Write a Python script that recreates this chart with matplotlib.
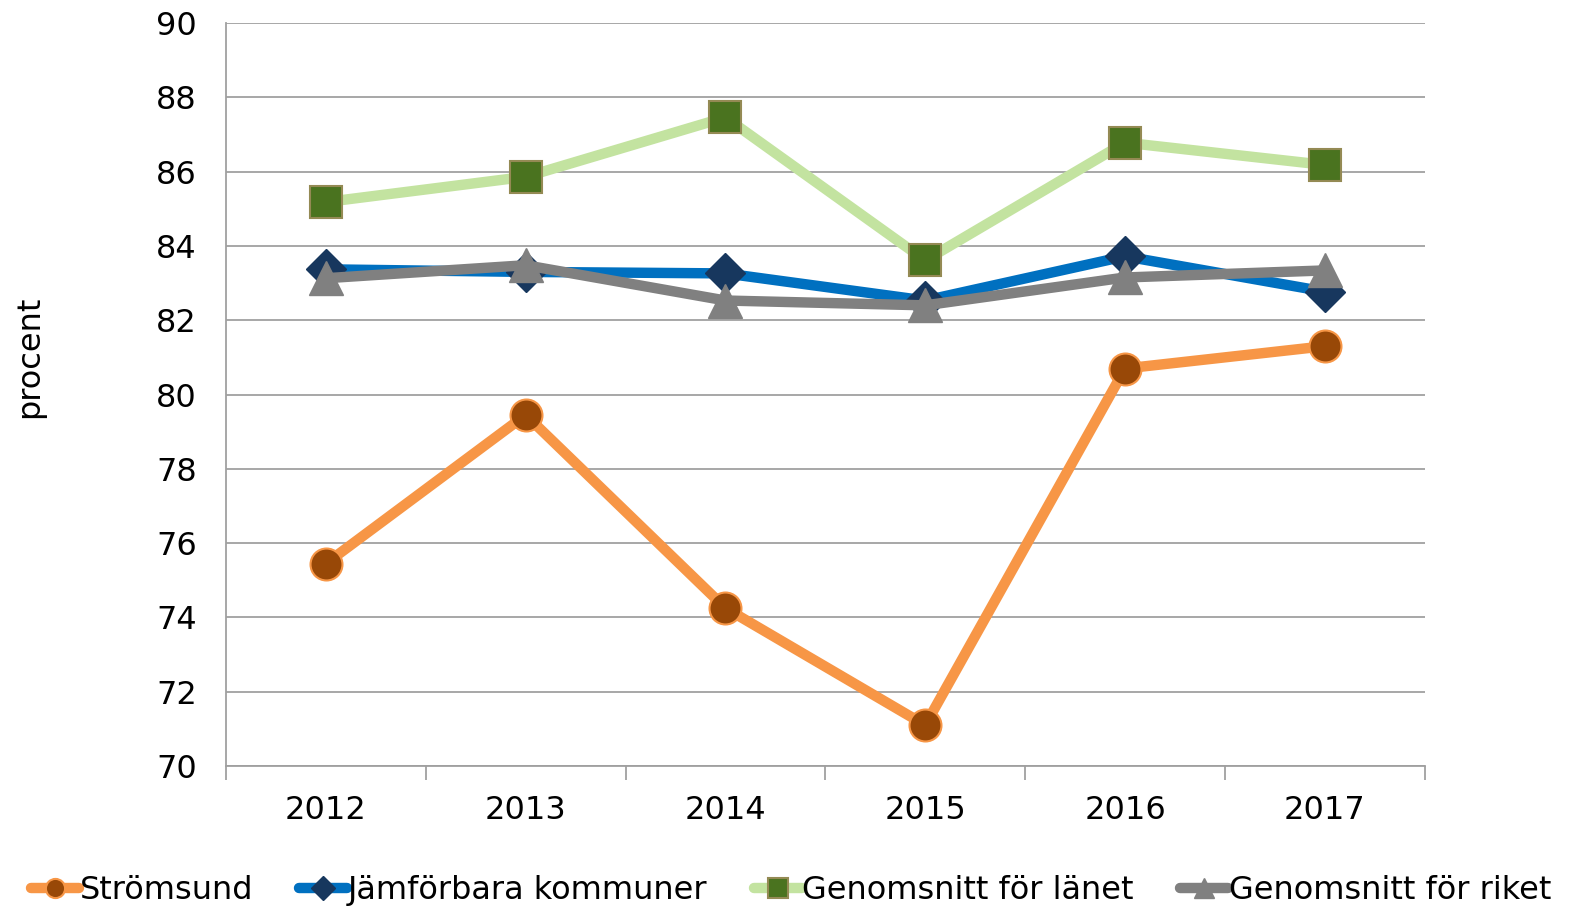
import matplotlib
matplotlib.use("Agg")
import matplotlib.pyplot as plt
import numpy as np

years = ["2012", "2013", "2014", "2015", "2016", "2017"]
stromsund = [75.45, 79.45, 74.25, 71.1, 80.7, 81.3]
jamforbara = [83.37, 83.3, 83.26, 82.53, 83.72, 82.77]
lanet = [85.18, 85.86, 87.46, 83.61, 86.78, 86.18]
riket = [83.13, 83.48, 82.53, 82.4, 83.15, 83.34]

plt.rcParams['font.family'] = ['DejaVu Sans']

fig = plt.figure(figsize=(15.76, 9.09), dpi=100)
ax = fig.add_axes([0.1434, 0.1573, 0.904 - 0.1434, 0.9747 - 0.1573])

x = np.arange(len(years))
lw = 7.5
ax.plot(x, stromsund, color="#F79646", lw=lw, marker="o", markersize=23,
        markerfacecolor="#984807", markeredgecolor="#F79646", markeredgewidth=1.5,
        label="Strömsund", solid_capstyle="round", zorder=3)
ax.plot(x, jamforbara, color="#0070C0", lw=lw, marker="D", markersize=20,
        markerfacecolor="#17375E", markeredgecolor="#17375E",
        label="Jämförbara kommuner", solid_capstyle="round", zorder=4)
ax.plot(x, lanet, color="#C3E3A0", lw=lw, marker="s", markersize=23,
        markerfacecolor="#4A731F", markeredgecolor="#948A54", markeredgewidth=1.5,
        label="Genomsnitt för länet", solid_capstyle="round", zorder=5)
ax.plot(x, riket, color="#808080", lw=lw, marker="^", markersize=24,
        markerfacecolor="#808080", markeredgecolor="#808080",
        label="Genomsnitt för riket", solid_capstyle="round", zorder=6)

ax.set_xlim(-0.5, 5.5)
ax.set_ylim(70, 90)
ax.set_yticks(np.arange(70, 91, 2))
ax.grid(axis="y", color="#A0A0A0", lw=1.3)
ax.set_axisbelow(True)
for s in ["top", "right"]:
    ax.spines[s].set_visible(False)
ax.spines["left"].set_color("#A0A0A0")
ax.spines["bottom"].set_color("#A0A0A0")
ax.spines["left"].set_linewidth(1.3)
ax.spines["bottom"].set_linewidth(1.3)

ax.set_xticks(x)
ax.set_xticklabels(years)
ax.set_xticks(np.arange(-0.5, 5.6, 1), minor=True)
ax.tick_params(axis="x", which="major", length=0, pad=21, labelsize=23)
ax.tick_params(axis="x", which="minor", length=10, width=1.3, color="#A0A0A0", direction="out")
ax.tick_params(axis="y", length=0, pad=21, labelsize=23)

fig.text(0.019, 0.608, "procent", rotation=90, fontsize=23, ha="center", va="center")

leg = fig.legend(loc="center", bbox_to_anchor=(0.502, 0.02), ncol=4, frameon=False,
                 fontsize=23, handlelength=1.5, handletextpad=0.02, columnspacing=1.45,
                 markerscale=0.6)

fig.savefig("out.png", dpi=100)
